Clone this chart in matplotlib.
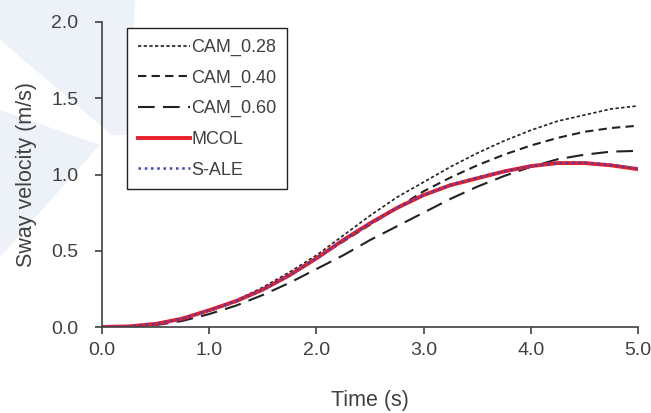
import matplotlib
matplotlib.use('Agg')
import matplotlib.pyplot as plt
from matplotlib.patches import Polygon
import numpy as np

# temps (s)
t = [0.0, 0.25, 0.5, 0.75, 1.0, 1.25, 1.5, 1.75, 2.0, 2.25, 2.5,
     2.75, 3.0, 3.25, 3.5, 3.75, 4.0, 4.25, 4.5, 4.75, 5.0]

# vitesses (m/s)
cam_028 = [0.0, 0.003, 0.02, 0.06, 0.11, 0.175, 0.26, 0.36, 0.47, 0.60, 0.73,
           0.85, 0.95, 1.05, 1.14, 1.22, 1.29, 1.35, 1.39, 1.43, 1.45]
cam_040 = [0.0, 0.003, 0.018, 0.055, 0.105, 0.165, 0.245, 0.34, 0.45, 0.56, 0.67,
           0.78, 0.89, 0.98, 1.06, 1.13, 1.19, 1.24, 1.28, 1.305, 1.32]
cam_060 = [0.0, 0.002, 0.012, 0.04, 0.085, 0.14, 0.21, 0.29, 0.38, 0.47, 0.57,
           0.66, 0.75, 0.84, 0.92, 0.99, 1.05, 1.10, 1.13, 1.15, 1.155]
mcol = [0.0, 0.004, 0.02, 0.055, 0.11, 0.17, 0.245, 0.34, 0.45, 0.57, 0.68,
        0.78, 0.865, 0.93, 0.975, 1.02, 1.055, 1.075, 1.075, 1.06, 1.035]
s_ale = [0.0, 0.004, 0.02, 0.055, 0.11, 0.17, 0.245, 0.34, 0.45, 0.57, 0.68,
         0.78, 0.865, 0.93, 0.98, 1.02, 1.055, 1.075, 1.078, 1.062, 1.04]

xticks = [0.0, 1.0, 2.0, 3.0, 4.0, 5.0]
yticks = [0.0, 0.5, 1.0, 1.5, 2.0]

plt.rcParams['font.family'] = ['Liberation Sans', 'DejaVu Sans']
grey = '#404040'

W, H = 651, 413
fig = plt.figure(figsize=(W / 100, H / 100), dpi=100)

# filigrane bleu pâle en fond
wm = '#edf2f9'
for pts in ([(0, 0), (135, 0), (128, 135), (112, 135), (0, 40)],
            [(0, 110), (100, 145), (0, 257)]):
    pts = [(x / W, 1 - y / H) for x, y in pts]
    fig.patches.append(Polygon(pts, closed=True, transform=fig.transFigure,
                               facecolor=wm, edgecolor='none', zorder=-10))

ax = fig.add_axes([102 / W, 1 - 327 / H, (638 - 102) / W, (327 - 22) / H])
ax.patch.set_alpha(0)

ax.plot(t, cam_028, color='#222222', lw=1.2, dashes=(2, 1.4), label='CAM_0.28')
ax.plot(t, cam_040, color='#222222', lw=1.5, dashes=(4, 2.5), label='CAM_0.40')
ax.plot(t, cam_060, color='#222222', lw=1.5, dashes=(8, 4), label='CAM_0.60')
ax.plot(t, mcol, color='#e8202a', lw=2.8, label='MCOL')
ax.plot(t, s_ale, color='#4040b8', lw=1.8, dashes=(1, 1.5), label='S-ALE')

ax.set_xlim(0, 5)
ax.set_ylim(0, 2)
ax.set_xticks(xticks)
ax.set_xticklabels([f'{v:.1f}' for v in xticks])
ax.set_yticks(yticks)
ax.set_yticklabels([f'{v:.1f}' for v in yticks])

for s in ['top', 'right']:
    ax.spines[s].set_visible(False)
for s in ['left', 'bottom']:
    ax.spines[s].set_color(grey)
    ax.spines[s].set_linewidth(1.2)

ax.tick_params(direction='out', length=5, width=1.2, color=grey,
               labelcolor=grey, labelsize=14)
ax.tick_params(axis='y', pad=12)
ax.tick_params(axis='x', pad=6)

ax.set_xlabel('Time (s)', fontsize=15.5, color=grey, labelpad=22)
ax.set_ylabel('Sway velocity (m/s)', fontsize=15.5, color=grey, labelpad=10)

leg = ax.legend(loc='upper left', bbox_to_anchor=(25 / 536, (327 - 28) / 305),
                borderaxespad=0, frameon=True, fancybox=False, fontsize=13,
                handlelength=2.9, handletextpad=0.05, labelspacing=0.75,
                borderpad=0.6)
leg.get_frame().set_edgecolor('#222222')
leg.get_frame().set_linewidth(1.0)
leg.get_frame().set_facecolor('white')
leg.get_frame().set_alpha(1)
for txt in leg.get_texts():
    txt.set_color(grey)

fig.savefig('out.png', dpi=100)
